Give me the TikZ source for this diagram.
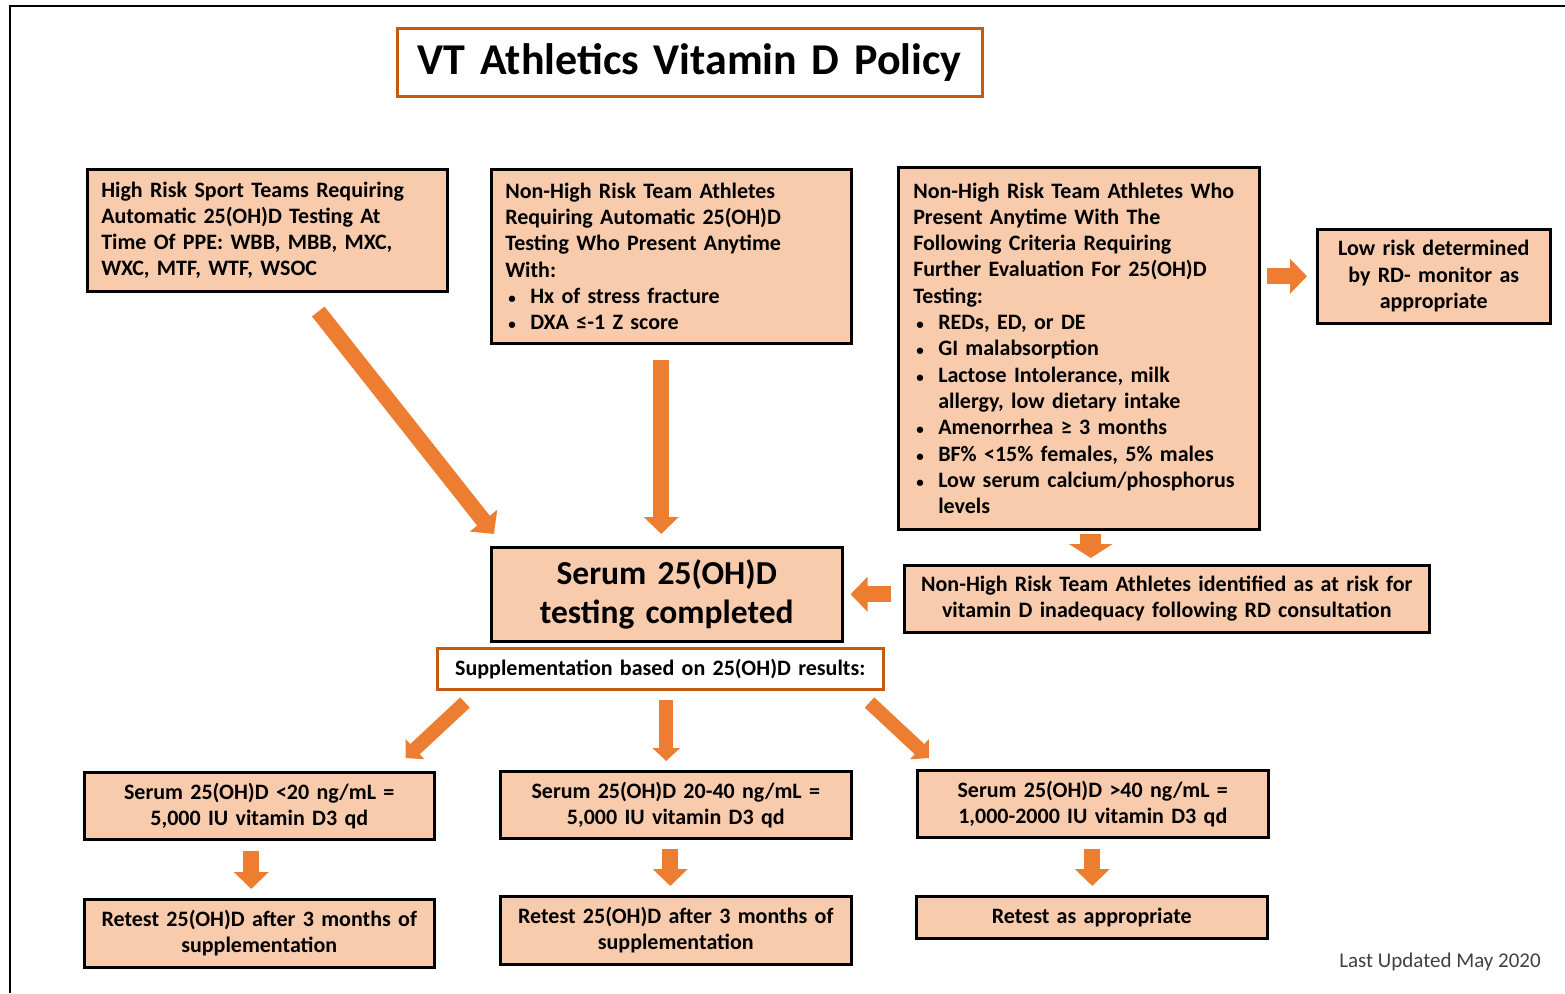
\documentclass[tikz,border=0pt]{standalone}
\usepackage{fontspec}
\setmainfont{Carlito}
\usetikzlibrary{arrows.meta,calc}

\definecolor{boxfill}{HTML}{F8CBAD}
\definecolor{arroworange}{HTML}{ED7D31}
\definecolor{titleedge}{HTML}{C55A11}

\newcommand{\boxfont}{\fontsize{22}{26.3}\selectfont\bfseries}
\newcommand{\bul}{\makebox[25pt][l]{\hspace{3pt}{\fontsize{15}{15}\selectfont\textbullet}}}
\newcommand{\hang}{\hspace*{25pt}}

\begin{document}
\begin{tikzpicture}[x=1pt,y=-1pt,
    box/.style={draw=black,fill=boxfill,line width=2.5pt,anchor=north west,
                inner xsep=0pt,inner ysep=0pt,align=left,font=\boxfont},
    cbox/.style={box,align=center},
    fatarrow/.style={draw=arroworange,line width=#1pt},
    fatarrow/.default=16]
  \useasboundingbox (0,0) rectangle (1565,993);
  \draw[line width=2pt] (10,993) -- (10,6) -- (1565,6);
  \node[cbox,draw=titleedge,fill=white,minimum width=585pt,text width=557pt,minimum height=68pt,
        font=\fontsize{44}{50}\selectfont\bfseries]
                (title)      at (396,27)  {VT Athletics Vitamin D Policy};
  \node[box,minimum width=360pt,text width=332pt,minimum height=122pt]
                (highrisk)   at (86,168)  {High Risk Sport Teams Requiring\\Automatic 25(OH)D Testing At\\
                                          Time Of PPE: WBB, MBB, MXC,\\WXC, MTF, WTF, WSOC};
  \node[box,minimum width=360pt,text width=332pt,minimum height=174pt]
                (automatic)  at (490,168) {Non-High Risk Team Athletes\\Requiring Automatic 25(OH)D\\
                                          Testing Who Present Anytime\\With:\\
                                          \bul Hx of stress fracture\\\bul DXA ≤-1 Z score};
  \node[box,minimum width=361pt,text width=331pt,minimum height=362pt]
                (criteria)   at (897,166) {Non-High Risk Team Athletes Who\\Present Anytime With The\\
                                          Following Criteria Requiring\\Further Evaluation For 25(OH)D\\
                                          Testing:\\
                                          \bul REDs, ED, or DE\\
                                          \bul GI malabsorption\\
                                          \bul Lactose Intolerance, milk\\\hang allergy, low dietary intake\\
                                          \bul Amenorrhea ≥ 3 months\\
                                          \bul BF\% <15\% females, 5\% males\\
                                          \bul Low serum calcium/phosphorus\\\hang levels};
  \node[cbox,minimum width=233pt,text width=213pt,minimum height=94pt]
                (lowrisk)    at (1316,228) {Low risk determined\\by RD- monitor as\\appropriate};
  \node[cbox,minimum width=351pt,text width=323pt,minimum height=94pt,
        font=\fontsize{33.5}{39}\selectfont\bfseries]
                (tested)     at (490,546) {Serum 25(OH)D\\testing completed};
  \node[cbox,minimum width=525pt,text width=505pt,minimum height=67pt]
                (atrisk)     at (903,564) {Non-High Risk Team Athletes identified as at risk for\\
                                          vitamin D inadequacy following RD consultation};
  \node[cbox,draw=titleedge,fill=white,minimum width=446pt,text width=430pt,minimum height=41pt]
                (supp)       at (436,647) {Supplementation based on 25(OH)D results:};
  \node[cbox,minimum width=350pt,text width=322pt,minimum height=67pt]
                (low)        at (83,771)  {Serum 25(OH)D <20 ng/mL =\\5,000 IU vitamin D3 qd};
  \node[cbox,minimum width=351pt,text width=323pt,minimum height=67pt]
                (mid)        at (499,770) {Serum 25(OH)D 20-40 ng/mL =\\5,000 IU vitamin D3 qd};
  \node[cbox,minimum width=351pt,text width=323pt,minimum height=67pt]
                (high)       at (916,769) {Serum 25(OH)D >40 ng/mL =\\1,000-2000 IU vitamin D3 qd};
  \node[cbox,minimum width=350pt,text width=330pt,minimum height=68pt]
                (retestlow)  at (83,898)  {Retest 25(OH)D after 3 months of\\supplementation};
  \node[cbox,minimum width=351pt,text width=331pt,minimum height=68pt]
                (retestmid)  at (499,895) {Retest 25(OH)D after 3 months of\\supplementation};
  \node[cbox,minimum width=351pt,text width=323pt,minimum height=42pt]
                (retesthigh) at (915,895) {Retest as appropriate};
  \node[font=\fontsize{21}{25}\selectfont,text=black!75]
                (updated)    at (1440,962) {Last Updated May 2020};
  \begin{scope}[-{Triangle[length=17pt,width=34pt]}]
     \draw[fatarrow] ($(highrisk.south)+(51,19)$) -- ($(tested.north west)+(4,-12)$);
     \draw[fatarrow] ($(automatic.south)+(-10,15)$) -- ($(tested.north)+(-5.5,-12)$);
     \draw[fatarrow] ($(tested.east -| atrisk.west)+(-12,0)$) -- ($(tested.east)+(7,0)$);
     \draw[fatarrow] ($(lowrisk.west -| criteria.east)+(6,0)$) -- ($(lowrisk.west)+(-9,0)$);
     \draw[fatarrow] ($(low.south)+(-8,10)$) -- ($(retestlow.north)+(-8,-9)$);
     \draw[fatarrow] ($(mid.south)+(-5.5,9)$) -- ($(retestmid.north)+(-5.5,-9)$);
     \draw[fatarrow] ($(high.south)+(-0.5,10)$) -- ($(retesthigh.north)+(0.5,-9)$);
  \end{scope}
  \draw[fatarrow=21,-{Triangle[length=14pt,width=43pt]}]
       ($(criteria.south)+(12,3)$) -- ($(criteria.south |- atrisk.north)+(12,-6)$);
  \begin{scope}[-{Triangle[length=13pt,width=27pt]}]
     \draw[fatarrow=14] ($(supp.south west)+(29,12)$) -- ($(low.north east)+(-30,-13)$);
     \draw[fatarrow=14] ($(supp.south)+(6,9)$) -- ($(supp.south |- mid.north)+(6,-9)$);
     \draw[fatarrow=14] ($(supp.south east)+(-15,12)$) -- ($(high.north west)+(13,-11)$);
  \end{scope}
\end{tikzpicture}
\end{document}
